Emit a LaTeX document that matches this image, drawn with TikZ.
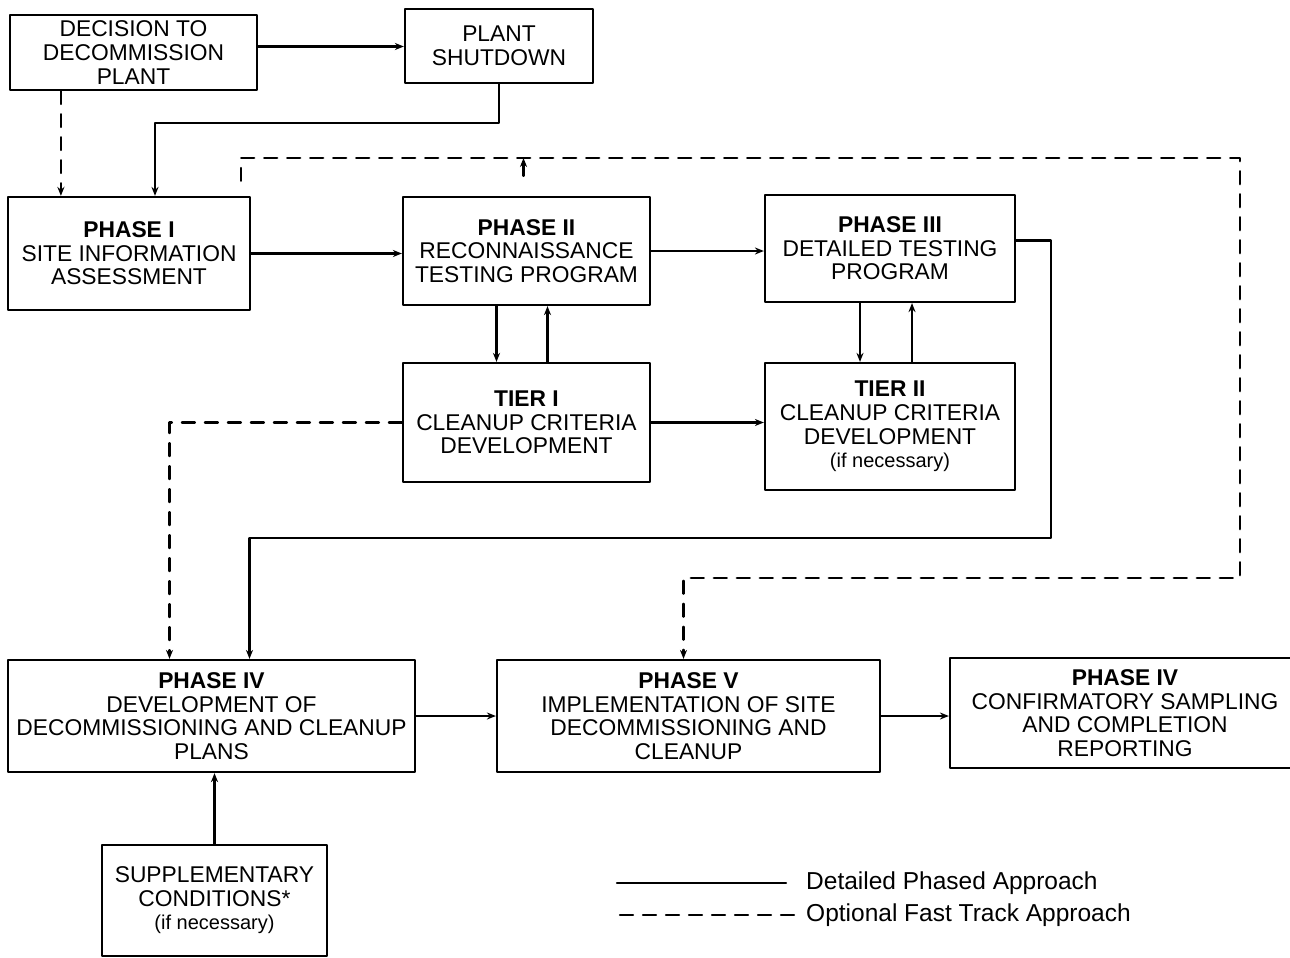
\documentclass[tikz,border=0pt]{standalone}
\usepackage{fontspec}
\setmainfont{Liberation Sans}
\usetikzlibrary{arrows.meta}
\begin{document}
\begin{tikzpicture}[x=1pt,y=-1pt,font=\fontsize{22.8}{23.6}\selectfont, line cap=round,line join=round,>={Stealth[length=9pt,width=7pt]},
  blk/.style={draw,line width=2.2pt,align=center,inner sep=0pt},
  main/.style={line width=2.2pt},
  fast/.style={line width=2.2pt,dash pattern=on 13pt off 10pt}]
\useasboundingbox (0,0) rectangle (1290,958);
\clip (0,0) rectangle (1290,958);
\node[blk,minimum width=247pt,minimum height=75pt] (decide) at (133.5,52.5) {DECISION TO\\DECOMMISSION\\PLANT};
\node[blk,minimum width=188pt,minimum height=74pt] (shutdown) at (499,46) {PLANT\\SHUTDOWN};
\node[blk,minimum width=242pt,minimum height=113pt] (phase1) at (129,253.5) {\textbf{PHASE I}\\SITE INFORMATION\\ASSESSMENT};
\node[blk,minimum width=247pt,minimum height=108pt] (phase2) at (526.5,251) {\textbf{PHASE II}\\RECONNAISSANCE\\TESTING PROGRAM};
\node[blk,minimum width=250pt,minimum height=107pt] (phase3) at (890,248.5) {\textbf{PHASE III}\\DETAILED TESTING\\PROGRAM};
\node[blk,minimum width=247pt,minimum height=119pt] (tier1) at (526.5,422.5) {\textbf{TIER I}\\CLEANUP CRITERIA\\DEVELOPMENT};
\node[blk,minimum width=250pt,minimum height=127pt] (tier2) at (890,426.5) {\textbf{TIER II}\\CLEANUP CRITERIA\\DEVELOPMENT\\{\fontsize{20}{23.6}\selectfont (if necessary)}};
\node[blk,minimum width=407pt,minimum height=112pt] (phase4) at (211.5,716) {\textbf{PHASE IV}\\DEVELOPMENT OF\\DECOMMISSIONING AND CLEANUP\\PLANS};
\node[blk,minimum width=383pt,minimum height=112pt] (phase5) at (688.5,716) {\textbf{PHASE V}\\IMPLEMENTATION OF SITE\\DECOMMISSIONING AND\\CLEANUP};
\node[blk,minimum width=350pt,minimum height=110pt] (phase6) at (1125,713) {\textbf{PHASE IV}\\CONFIRMATORY SAMPLING\\AND COMPLETION\\REPORTING};
\node[blk,minimum width=225pt,minimum height=111pt] (supp) at (214.5,900.5) {SUPPLEMENTARY\\CONDITIONS*\\{\fontsize{20}{23.6}\selectfont (if necessary)}};
\coordinate (loopne) at (1240,158);
\coordinate (loopse) at (1240,578);
\coordinate (midrow) at (0,538);
\draw [main,->] ([yshift=6pt]decide.east) -- ([yshift=6pt]decide.east -| shutdown.west);
\draw [fast,->] ([xshift=52pt]decide.south west) -- ([xshift=52pt]decide.south west |- phase1.north);
\draw [main,->] (shutdown.south) -- ++(0,39) -| ([xshift=26pt]phase1.north);
\draw [main,->] (phase1.east) -- (phase1.east -| phase2.west);
\draw [main,->] (phase2.east) -- (phase2.east -| phase3.west);
\draw [main,->] ([xshift=-30pt]phase2.south) -- ([xshift=-30pt]tier1.north);
\draw [main,->] ([xshift=21pt]tier1.north) -- ([xshift=21pt]phase2.south);
\draw [main,->] ([xshift=-30pt]phase3.south) -- ([xshift=-30pt]tier2.north);
\draw [main,->] ([xshift=22pt]tier2.north) -- ([xshift=22pt]phase3.south);
\draw [main,->] (tier1.east) -- (tier1.east -| tier2.west);
\draw [main,->] ([yshift=8pt]phase3.east) -- ++(35,0) |- ([xshift=38pt]phase4.north |- midrow) -- ([xshift=38pt]phase4.north);
\draw [fast,->] (tier1.west) -| ([xshift=-42pt]phase4.north);
\draw [fast,->] ([xshift=-10pt,yshift=15pt]phase1.north east) |- (loopne) -- (loopse) -| ([xshift=-5pt]phase5.north);
\draw [main,->] ([xshift=-3pt,yshift=20pt]phase2.north) -- ([xshift=-3pt]phase2.north |- loopne);
\draw [main,->] (phase4.east) -- (phase4.east -| phase5.west);
\draw [main,->] (phase5.east) -- (phase5.east -| phase6.west);
\draw [main,->] (supp.north) -- (supp.north |- phase4.south);
\node[anchor=west,inner sep=0pt,font=\fontsize{24.5}{26}\selectfont] (lgmain) at (806,883) {Detailed Phased Approach};
\node[anchor=west,inner sep=0pt,font=\fontsize{24.5}{26}\selectfont] (lgfast) at (806,915) {Optional Fast Track Approach};
\coordinate (lgmainstart) at (617,883);
\coordinate (lgfaststart) at (620,915);
\draw [main] (lgmainstart) -- ([xshift=-20pt]lgmain.west);
\draw [fast] (lgfaststart) -- ([xshift=-10pt]lgfast.west);
\end{tikzpicture}
\end{document}
